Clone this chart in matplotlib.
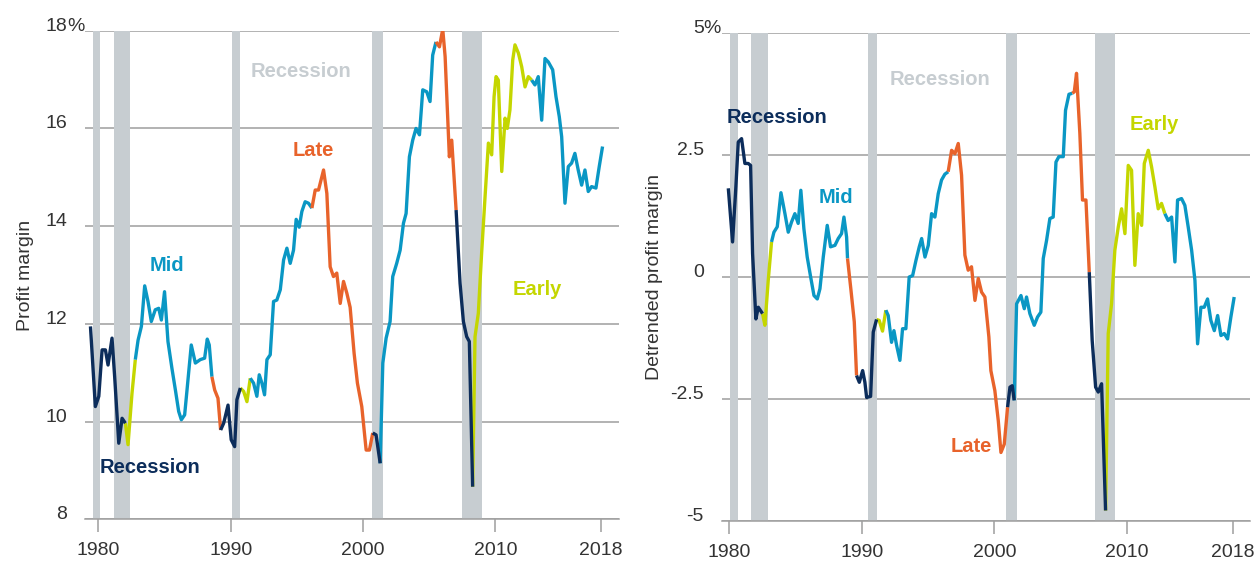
import matplotlib.pyplot as plt
import matplotlib.transforms as mtransforms

plt.rcParams['font.family'] = ['Liberation Sans', 'DejaVu Sans']

# phase colours
NAVY = '#0c2d5b'
TEAL = '#0a97c4'
ORANGE = '#e8632b'
LIME = '#c4d600'
BAR_GREY = '#c7cdd1'
GRID_GREY = '#9e9e9e'
TEXT_GREY = '#333333'
phase_colors = {'R': NAVY, 'E': LIME, 'M': TEAL, 'L': ORANGE}

# ---- left panel: profit margin (%) ----
margin_years = [
    1979.40, 1979.77, 1980.03, 1980.28, 1980.53, 1980.73, 1981.03, 1981.23, 1981.54, 1981.79,
    1982.04, 1982.24, 1982.54,
    1982.79, 1983.00, 1983.25, 1983.50, 1983.75, 1984.00, 1984.30, 1984.56, 1984.76, 1985.00,
    1985.26, 1985.56, 1985.82, 1986.07, 1986.27, 1986.52, 1986.70, 1987.02, 1987.33, 1987.70,
    1988.03, 1988.23, 1988.38,
    1988.58, 1988.79, 1989.04,
    1989.24, 1989.47, 1989.80, 1990.04, 1990.30, 1990.47,
    1990.73, 1990.98, 1991.23,
    1991.48, 1991.73, 1991.98, 1992.16, 1992.36, 1992.56, 1992.74, 1992.99, 1993.24, 1993.49,
    1993.75, 1994.00, 1994.25, 1994.50, 1994.75, 1994.95, 1995.18, 1995.38, 1995.63, 1995.88,
    1996.14, 1996.39, 1996.64, 1997.02, 1997.27, 1997.52, 1997.77, 1998.02, 1998.28, 1998.53,
    1998.78, 1999.03, 1999.33, 1999.58, 1999.91, 2000.24, 2000.49,
    2000.74, 2000.99,
    2001.30, 2001.50, 2001.75, 2002.05, 2002.25, 2002.55, 2002.81, 2003.06, 2003.26, 2003.51,
    2003.76, 2004.01, 2004.27, 2004.52, 2004.82, 2005.07, 2005.27,
    2005.52, 2005.78, 2006.03, 2006.21, 2006.53, 2006.71,
    2007.04, 2007.34, 2007.59, 2007.84, 2008.04,
    2008.29, 2008.47, 2008.72, 2008.97, 2009.23, 2009.48, 2009.73, 2009.91, 2010.06, 2010.23,
    2010.49, 2010.74, 2010.91, 2011.11, 2011.32, 2011.49, 2011.75, 2012.00, 2012.25, 2012.50,
    2012.75, 2013.00, 2013.25, 2013.51, 2013.76, 2014.01, 2014.34, 2014.59, 2014.84, 2015.02,
    2015.27, 2015.52, 2015.77, 2016.02, 2016.27, 2016.53, 2016.78, 2017.03, 2017.28, 2017.61,
    2017.86, 2018.11,
]
margin_values = [
    11.95, 10.31, 10.52, 11.47, 11.47, 11.16, 11.71, 10.92, 9.56, 10.07,
    9.97, 9.53, 10.58,
    11.27, 11.67, 11.95, 12.78, 12.46, 12.05, 12.29, 12.32, 12.08, 12.66,
    11.64, 11.09, 10.65, 10.21, 10.04, 10.14, 10.65, 11.57, 11.20, 11.27,
    11.30, 11.69, 11.57,
    10.92, 10.65, 10.48,
    9.83, 9.97, 10.34, 9.63, 9.49, 10.45,
    10.69, 10.62, 10.41,
    10.89, 10.79, 10.52, 10.96, 10.79, 10.55, 11.27, 11.37, 12.46, 12.49,
    12.70, 13.31, 13.55, 13.24, 13.51, 14.14, 13.98, 14.30, 14.50, 14.47,
    14.37, 14.74, 14.74, 15.15, 14.67, 13.17, 12.97, 13.04, 12.42, 12.87,
    12.63, 12.34, 11.40, 10.79, 10.31, 9.42, 9.42,
    9.77, 9.73,
    9.15, 11.20, 11.71, 12.05, 12.97, 13.24, 13.51, 14.06, 14.26, 15.42,
    15.76, 16.00, 15.87, 16.79, 16.75, 16.55, 17.50,
    17.77, 17.67, 18.03, 17.47, 15.42, 15.76,
    14.33, 12.83, 12.05, 11.74, 11.64,
    8.67, 11.74, 12.22, 13.45, 14.61, 15.70, 15.46, 16.65, 17.06, 16.99,
    15.12, 16.21, 16.00, 16.38, 17.40, 17.71, 17.54, 17.26, 16.85, 17.06,
    16.99, 16.89, 17.06, 16.17, 17.43, 17.36, 17.20, 16.65, 16.24, 15.83,
    14.47, 15.22, 15.29, 15.49, 15.15, 14.84, 15.15, 14.71, 14.81, 14.78,
    15.22, 15.63,
]
margin_phase = ('R' * 10 + 'E' * 3 + 'M' * 23 + 'L' * 3 + 'R' * 6 + 'E' * 3 + 'M' * 20
                + 'L' * 17 + 'R' * 2 + 'M' * 17 + 'L' * 6 + 'R' * 5 + 'E' * 20 + 'M' * 22)
margin_recessions = [(1979.62, 1980.15), (1981.21, 1982.42), (1990.12, 1990.72),
                     (2000.69, 2001.53), (2007.49, 2009.00)]

# ---- right panel: detrended profit margin (%) ----
detrended_years = [
    1979.93, 1980.25, 1980.50, 1980.68, 1980.93, 1981.18, 1981.43, 1981.61, 1981.76, 1982.01,
    1982.19,
    1982.51, 1982.69, 1982.94,
    1983.19, 1983.37, 1983.62, 1983.90, 1984.20, 1984.45, 1984.70, 1984.95, 1985.20, 1985.40,
    1985.63, 1985.88, 1986.14, 1986.39, 1986.64, 1986.84, 1987.09, 1987.39, 1987.64, 1987.97,
    1988.22, 1988.47, 1988.65, 1988.85,
    1988.92, 1989.18, 1989.43,
    1989.60, 1989.81, 1990.06, 1990.23, 1990.36, 1990.66, 1990.86,
    1991.11, 1991.31, 1991.56,
    1991.81, 1991.99, 1992.24, 1992.42, 1992.62, 1992.87, 1993.07, 1993.32, 1993.57, 1993.83,
    1994.08, 1994.33, 1994.51, 1994.76, 1995.01, 1995.26, 1995.51, 1995.76, 1996.01, 1996.26,
    1996.51, 1996.77, 1997.02, 1997.27, 1997.52, 1997.77, 1998.02, 1998.27, 1998.53, 1998.78,
    1999.03, 1999.28, 1999.58, 1999.73, 2000.03, 2000.29, 2000.49, 2000.74,
    2000.99, 2001.17, 2001.34,
    2001.49, 2001.67, 2002.00, 2002.25, 2002.42, 2002.67, 2003.00, 2003.25, 2003.50, 2003.68,
    2003.93, 2004.18, 2004.43, 2004.64, 2004.86, 2005.19, 2005.36, 2005.62,
    2005.87, 2006.02, 2006.19, 2006.44, 2006.64, 2006.90,
    2007.15, 2007.37, 2007.63, 2007.83, 2008.08,
    2008.38, 2008.58, 2008.83, 2009.08, 2009.34, 2009.59, 2009.84, 2010.09, 2010.34, 2010.59,
    2010.84, 2011.10, 2011.30, 2011.60, 2011.85, 2012.10, 2012.35, 2012.60,
    2012.85, 2013.10, 2013.36, 2013.61, 2013.81, 2014.11, 2014.36, 2014.61, 2014.87, 2015.12,
    2015.32, 2015.57, 2015.82, 2016.07, 2016.32, 2016.58, 2016.83, 2017.08, 2017.33, 2017.58,
    2017.83, 2018.08,
]
detrended_values = [
    1.82, 0.72, 1.85, 2.77, 2.84, 2.33, 2.33, 2.29, 0.48, -0.86,
    -0.62,
    -0.75, -0.99, -0.07,
    0.72, 0.92, 1.03, 1.73, 1.30, 0.92, 1.13, 1.30, 1.10, 1.78,
    0.99, 0.41, 0.00, -0.38, -0.45, -0.24, 0.41, 1.06, 0.62, 0.65,
    0.79, 0.89, 1.23, 0.82,
    0.38, -0.27, -0.92,
    -2.02, -2.16, -1.92, -2.16, -2.47, -2.45, -1.13,
    -0.87, -0.89, -1.11,
    -0.68, -0.79, -1.34, -1.10, -1.40, -1.71, -1.06, -1.06, 0.00, 0.03,
    0.34, 0.62, 0.79, 0.41, 0.65, 1.30, 1.23, 1.71, 1.99, 2.11,
    2.16, 2.60, 2.53, 2.74, 2.09, 0.45, 0.14, 0.21, -0.48, -0.03,
    -0.31, -0.41, -1.23, -1.92, -2.33, -2.95, -3.60, -3.43,
    -2.67, -2.26, -2.23,
    -2.53, -0.55, -0.38, -0.65, -0.41, -0.75, -0.99, -0.82, -0.72, 0.38,
    0.75, 1.20, 1.23, 2.36, 2.47, 2.47, 3.42, 3.75,
    3.77, 3.80, 4.18, 2.95, 1.58, 1.58,
    0.10, -1.30, -2.26, -2.36, -2.19,
    -4.79, -1.16, -0.55, 0.55, 1.03, 1.40, 0.89, 2.29, 2.19, 0.24,
    1.30, 1.06, 2.33, 2.60, 2.26, 1.85, 1.40, 1.51,
    1.30, 1.16, 1.23, 0.31, 1.58, 1.61, 1.47, 1.03, 0.55, -0.07,
    -1.37, -0.62, -0.62, -0.45, -0.89, -1.10, -0.79, -1.20, -1.16, -1.27,
    -0.82, -0.41,
]
detrended_phase = ('R' * 11 + 'E' * 3 + 'M' * 24 + 'L' * 3 + 'R' * 7 + 'E' * 3 + 'M' * 20
                   + 'L' * 18 + 'R' * 3 + 'M' * 18 + 'L' * 6 + 'R' * 5 + 'E' * 18 + 'M' * 22)
detrended_recessions = [(1980.05, 1980.68), (1981.64, 1982.95), (1990.43, 1991.11),
                        (2000.87, 2001.73), (2007.60, 2009.11)]

year_ticks = [1980, 1990, 2000, 2010, 2018]

fig = plt.figure(figsize=(12.56, 5.66), dpi=100)
ax_left = fig.add_axes([0.0677, 0.0822, 0.4252, 0.8636])
ax_right = fig.add_axes([0.5748, 0.0800, 0.4204, 0.8611])


def draw_phases(ax, years, values, phases):
    start = 0
    for i in range(1, len(years)):
        if phases[i] != phases[start] or i == len(years) - 1:
            p = phases[start]
            ax.plot(years[start:i + 1], values[start:i + 1], color=phase_colors[p],
                    lw=2.4, solid_joinstyle='round', solid_capstyle='butt',
                    zorder=3.5 if p == 'R' else 3)
            start = i


def style_axis(ax, xlim, yticks, unit_top):
    ax.set_xlim(*xlim)
    ax.set_ylim(yticks[0], yticks[-1])
    for side in ['top', 'right', 'left']:
        ax.spines[side].set_visible(False)
    ax.spines['bottom'].set_color(GRID_GREY)
    ax.spines['bottom'].set_linewidth(1.1)
    ax.set_xticks(year_ticks)
    ax.tick_params(axis='x', length=9.5, width=1.1, color=GRID_GREY, pad=7,
                   labelsize=14, labelcolor=TEXT_GREY)
    ax.set_yticks(yticks)
    ax.set_yticklabels([f'{t:g}' for t in yticks])
    ax.tick_params(axis='y', length=0, pad=13, labelsize=14, labelcolor=TEXT_GREY)
    for lab in ax.get_yticklabels():
        lab.set_va('baseline')
    ax.grid(axis='y', color=GRID_GREY, lw=1.1, zorder=0)
    ax.set_axisbelow(True)
    trans = mtransforms.blended_transform_factory(ax.transAxes, ax.transData)
    ax.text(unit_top, yticks[-1], '%', transform=trans, ha='left', va='baseline',
            fontsize=14, color=TEXT_GREY)


def draw_recessions(ax, spans):
    for a, b in spans:
        ax.axvspan(a, b, color=BAR_GREY, lw=0, zorder=1)


# left panel
draw_recessions(ax_left, margin_recessions)
draw_phases(ax_left, margin_years, margin_values, margin_phase)
style_axis(ax_left, (1978.99, 2019.36), [8, 10, 12, 14, 16, 18], -0.0337)
fig.text(25 / 1256, 1 - 275 / 566, 'Profit margin', rotation=90, ha='center', va='center',
         fontsize=14, color=TEXT_GREY)
bold = dict(fontsize=14.5, fontweight='bold', ha='center', va='center', zorder=4)
ax_left.text(1995.32, 17.17, 'Recession', color=BAR_GREY, **bold)
ax_left.text(1996.23, 15.54, 'Late', color=ORANGE, **bold)
ax_left.text(1985.15, 13.20, 'Mid', color=TEAL, **bold)
ax_left.text(1983.87, 9.07, 'Recession', color=NAVY, **bold)
ax_left.text(2013.20, 12.70, 'Early', color=LIME, **bold)

# right panel
draw_recessions(ax_right, detrended_recessions)
draw_phases(ax_right, detrended_years, detrended_values, detrended_phase)
style_axis(ax_right, (1979.45, 2019.27), [-5, -2.5, 0, 2.5, 5], -0.036)
fig.text(654 / 1256, 1 - 277 / 566, 'Detrended profit margin', rotation=90, ha='center',
         va='center', fontsize=14, color=TEXT_GREY)
ax_right.text(1995.89, 4.05, 'Recession', color=BAR_GREY, **bold)
ax_right.text(1983.60, 3.27, 'Recession', color=NAVY, **bold)
ax_right.text(1988.05, 1.63, 'Mid', color=TEAL, **bold)
ax_right.text(1998.23, -3.47, 'Late', color=ORANGE, **bold)
ax_right.text(2012.03, 3.12, 'Early', color=LIME, **bold)

fig.savefig('out.png', dpi=100)
